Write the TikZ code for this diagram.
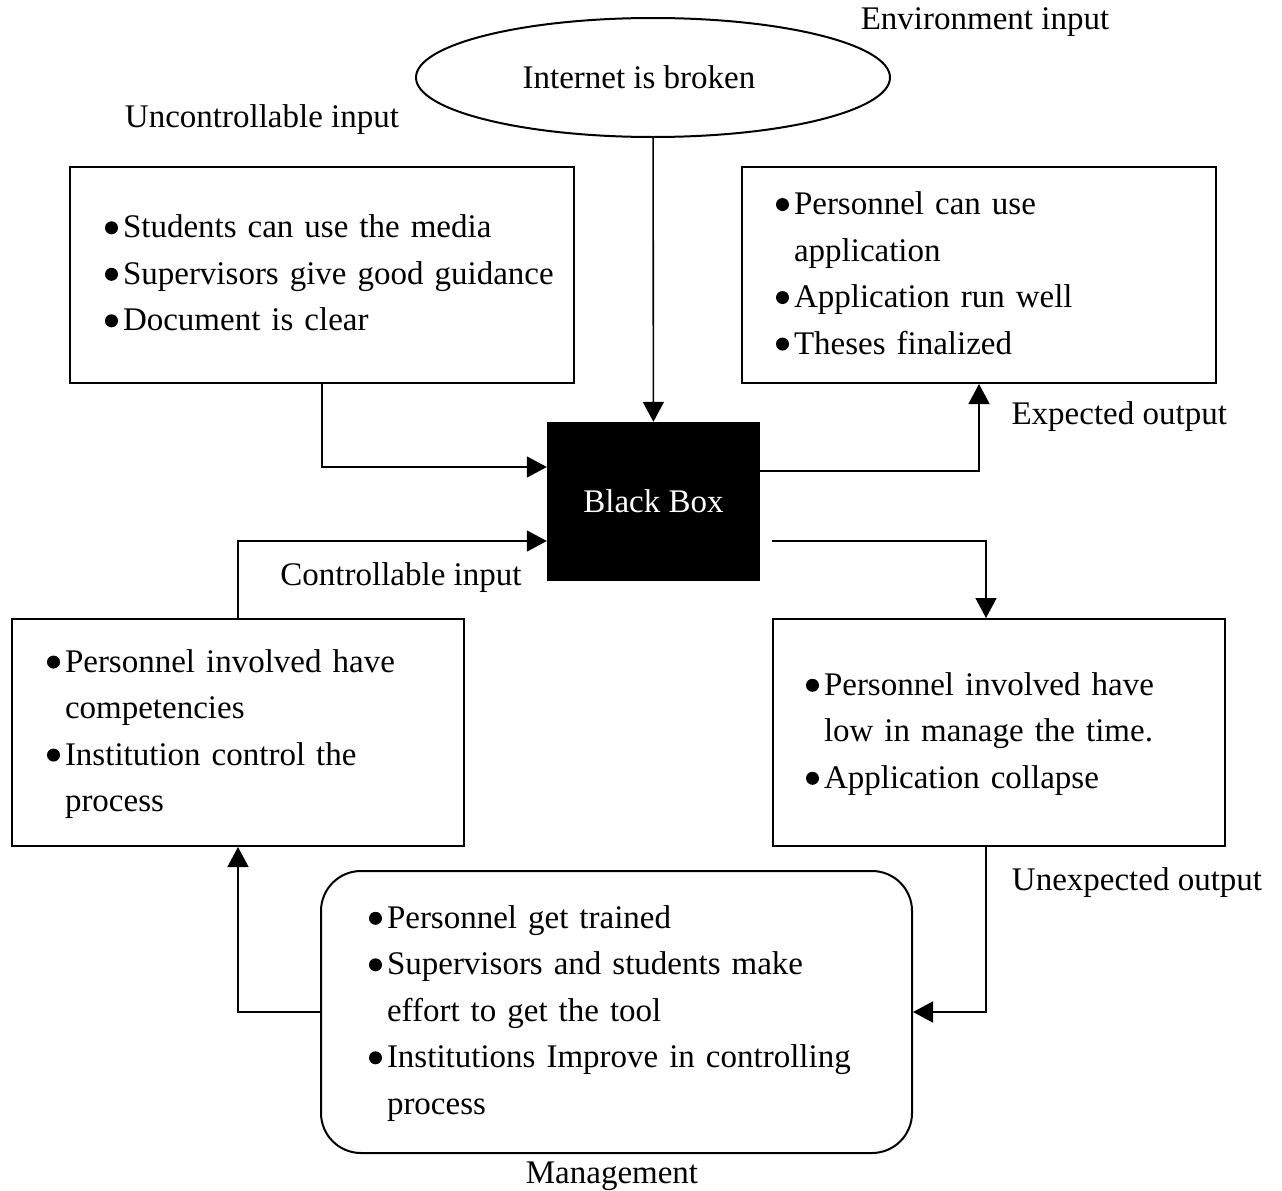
\documentclass[tikz,border=0pt]{standalone}
\usepackage{fontspec}
\setmainfont{Liberation Serif}
\usetikzlibrary{shapes.geometric,arrows.meta}

\newcommand{\blist}[1]{\begin{tabular}{@{}l@{\hspace{5pt}}l@{}}#1\end{tabular}}
\newcommand{\bul}{\tikz[x=1pt,y=1pt,baseline=-10pt]\fill (0,0) circle (6.5pt);}

\tikzset{
	box/.style={draw, line width=2pt, inner ysep=0pt, align=left},
	flow/.style={line width=1.6pt, -{Triangle[length=20pt,width=21pt]}},
}

\begin{document}
\begin{tikzpicture}[x=1pt, y=-1pt, font=\fontsize{33}{46.5}\selectfont]
	\useasboundingbox (0,0) rectangle (1282,1191);
	\node[draw, ellipse, line width=2pt, minimum width=474pt, minimum height=119pt] (net) at (653,77.5) {\hspace{-28pt}Internet is broken};
	\node[fill=black, text=white, minimum width=213pt, minimum height=159pt] (bb) at (653.5,501.5) {Black Box};
	\node[box, minimum height=216pt, text width=434pt, inner xsep=35pt] (unctrl) at (322,275) {\blist{\bul & Students can use the media\\ \bul & Supervisors give good guidance\\ \bul & Document is clear}};
	\node[box, minimum height=216pt, text width=406pt, inner xsep=34pt] (expct) at (979,275) {\blist{\bul & Personnel can use\\ & application\\ \bul & Application run well\\ \bul & Theses finalized}};
	\node[box, minimum height=227pt, text width=382pt, inner xsep=35pt] (ctrl) at (238,732.5) {\blist{\bul & Personnel involved have\\ & competencies\\ \bul & Institution control the\\ & process}};
	\node[box, minimum height=227pt, text width=386pt, inner xsep=33pt] (unexp) at (999,732.5) {\blist{\bul & Personnel involved have\\ & low in manage the time.\\ \bul & Application collapse}};
	\node[box, rounded corners=40pt, minimum height=282pt, text width=495pt, inner xsep=48pt] (mgmt) at (616.5,1012) {\blist{\bul & Personnel get trained\\ \bul & Supervisors and students make\\ & effort to get the tool\\ \bul & Institutions Improve in controlling\\ & process}};

	% labels
	\node (envlbl) at (985,22) {Environment input};
	\node (unclbl) at (262,120) {Uncontrollable input};
	\node[anchor=west] (explbl) at (1008,417) {Expected output};
	\node (ctllbl) at (401,578) {Controllable input};
	\node (unxlbl) at (1137,883) {Unexpected output};
	\node (mgtlbl) at (612,1176) {Management};

	% connectors
	\path ([yshift=-39.5pt]bb.east) coordinate (bblow);
	\draw[flow] (net) -- (bb);
	\draw[flow] (unctrl.south) |- ([yshift=34.5pt]bb.west);
	\draw[flow] ([yshift=30.5pt]bb.east) -| (expct.south);
	\draw[flow] (ctrl.north) |- ([yshift=-39.5pt]bb.west);
	\draw[flow] (bblow -| unexp.west) -| ([xshift=-13pt]unexp.north);
	\draw[flow] ([xshift=-13pt]unexp.south) |- (mgmt.east);
	\draw[flow] (mgmt.west) -| (ctrl.south);
\end{tikzpicture}
\end{document}
